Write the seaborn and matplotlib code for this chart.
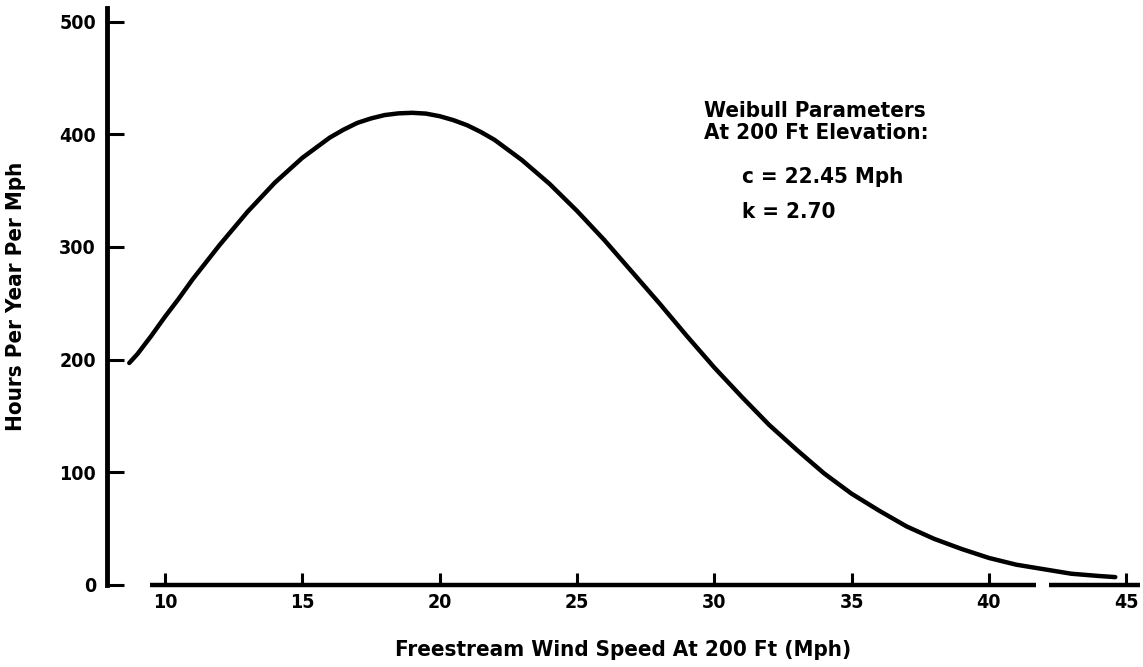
import matplotlib
matplotlib.use("Agg")
from matplotlib import pyplot as plt
import seaborn as sns
import pandas as pd

# values
wind_speed = [8.7, 9, 9.5, 10, 10.5, 11, 12, 13, 14, 15, 16, 16.5, 17, 17.5, 18,
              18.5, 19, 19.5, 20, 20.5, 21, 21.5, 22, 23, 24, 25, 26, 27, 28,
              29, 30, 31, 32, 33, 34, 35, 36, 37, 38, 39, 40, 41, 42, 43, 44, 44.6]
hours = [197, 205, 221, 238, 254, 271, 302, 331, 357, 379, 397, 404, 410, 414,
         417, 418.5, 419, 418.3, 416, 412.5, 408, 402, 395, 377, 356, 332, 306,
         278, 250, 221, 193, 167, 142, 120, 99, 81, 66, 52, 41, 32, 24, 18, 14,
         10, 8, 7]

x_ticks = [10, 15, 20, 25, 30, 35, 40, 45]
y_ticks = [0, 100, 200, 300, 400, 500]

param_lines = ["Weibull Parameters", "At 200 Ft Elevation:"]
param_values = ["c = 22.45 Mph", "k = 2.70"]

df = pd.DataFrame({"speed": wind_speed, "hours": hours})

sns.set_style("white")
plt.rcParams["font.family"] = ["DejaVu Sans"]
plt.rcParams["font.stretch"] = "condensed"
plt.rcParams["font.weight"] = "bold"
plt.rcParams["text.color"] = "black"
plt.rcParams["xtick.color"] = "black"
plt.rcParams["ytick.color"] = "black"
plt.rcParams["axes.labelcolor"] = "black"

fig = plt.figure(figsize=(11.43, 6.67), dpi=100)
ax = fig.add_axes([107 / 1143, 82 / 667, 1033 / 1143, 577 / 667])

sns.lineplot(data=df, x="speed", y="hours", color="black", linewidth=3.2,
             estimator=None, sort=False, ax=ax)
ax.lines[0].set_solid_joinstyle("round")
ax.lines[0].set_solid_capstyle("round")

ax.set_xlim(7.89, 45.5)
ax.set_ylim(0, 512)

# spines: thick left axis, broken x axis drawn by hand
for s in ["top", "right", "bottom"]:
    ax.spines[s].set_visible(False)
ax.spines["left"].set_linewidth(3.5)
ax.spines["left"].set_color("black")
ax.hlines(0, 9.45, 41.7, color="black", linewidth=3.2, clip_on=False)
ax.hlines(0, 42.2, 45.5, color="black", linewidth=3.2, clip_on=False)

fs = 14
ax.set_xticks(x_ticks)
ax.set_yticks(y_ticks)
ax.set_xticklabels([str(t) for t in x_ticks], fontsize=fs, fontweight="bold")
ax.set_yticklabels([str(t) for t in y_ticks], fontsize=fs, fontweight="bold")
ax.tick_params(axis="y", direction="in", length=12, width=2.2, pad=8, left=True)
ax.tick_params(axis="x", direction="in", length=9, width=2.2, pad=6, bottom=True)

ax.set_xlabel("Freestream Wind Speed At 200 Ft (Mph)", fontsize=16,
              fontweight="bold", labelpad=20)
ax.set_ylabel("Hours Per Year Per Mph", fontsize=16, fontweight="bold", labelpad=24)

ax.text(0.578, 0.838, "\n".join(param_lines), transform=ax.transAxes,
        fontsize=16, fontweight="bold", va="top", ha="left", linespacing=1.12)
ax.text(0.615, 0.707, param_values[0], transform=ax.transAxes,
        fontsize=16, fontweight="bold", va="center", ha="left")
ax.text(0.615, 0.646, param_values[1], transform=ax.transAxes,
        fontsize=16, fontweight="bold", va="center", ha="left")

fig.savefig("out.png", dpi=100)
